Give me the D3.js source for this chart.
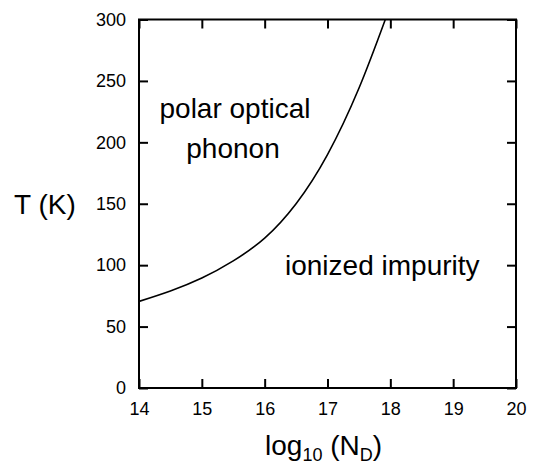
<!DOCTYPE html>
<html>
<head>
<meta charset="utf-8">
<script src="https://cdn.jsdelivr.net/npm/d3@7"></script>
<style>
  html, body { margin: 0; padding: 0; background: #fff; }
  svg { display: block; }
  text { font-family: "Liberation Sans", Arial, Helvetica, sans-serif; fill: #000; }
</style>
</head>
<body>
<svg id="chart" width="540" height="466"></svg>
<script>
// Boundary between scattering regimes: log10 of donor density vs temperature
const logND = [14, 14.5, 15, 15.5, 16, 16.5, 17, 17.5, 17.92];
const tempK = [70.5, 79, 89.5, 103.5, 122, 150, 190, 244, 300];

const xTicks = [14, 15, 16, 17, 18, 19, 20];
const yTicks = [0, 50, 100, 150, 200, 250, 300];

const regionLabels = ["polar optical", "phonon", "ionized impurity"];

const svg = d3.select("#chart");
const plotLeft = 139, plotRight = 516, plotTop = 19.5, plotBottom = 388;

const x = d3.scaleLinear().domain([14, 20]).range([plotLeft, plotRight]);
const y = d3.scaleLinear().domain([0, 300]).range([plotBottom, plotTop]);

const tickLen = 9;
const font = '"Liberation Sans", Arial, Helvetica, sans-serif';

// Axes with inward ticks
const gB = svg.append("g").attr("transform", `translate(0,${plotBottom})`)
  .call(d3.axisBottom(x).tickValues(xTicks).tickFormat(d3.format("d"))
    .tickSizeInner(-tickLen).tickSizeOuter(0).tickPadding(14));
const gT = svg.append("g").attr("transform", `translate(0,${plotTop})`)
  .call(d3.axisTop(x).tickValues(xTicks).tickFormat("")
    .tickSizeInner(-tickLen).tickSizeOuter(0));
const gL = svg.append("g").attr("transform", `translate(${plotLeft},0)`)
  .call(d3.axisLeft(y).tickValues(yTicks).tickFormat(d3.format("d"))
    .tickSizeInner(-tickLen).tickSizeOuter(0).tickPadding(13));
const gR = svg.append("g").attr("transform", `translate(${plotRight},0)`)
  .call(d3.axisRight(y).tickValues(yTicks).tickFormat("")
    .tickSizeInner(-tickLen).tickSizeOuter(0));

[gB, gT, gL, gR].forEach(g => {
  g.select(".domain").remove();
  g.selectAll(".tick line").attr("stroke", "#000").attr("stroke-width", 2);
  g.selectAll("text").attr("font-family", font).attr("font-size", 18).attr("fill", "#000");
});

// Plot frame
svg.append("rect")
  .attr("x", plotLeft).attr("y", plotTop)
  .attr("width", plotRight - plotLeft).attr("height", plotBottom - plotTop)
  .attr("fill", "none").attr("stroke", "#000").attr("stroke-width", 2);

// Boundary curve
svg.append("clipPath").attr("id", "plotClip")
  .append("rect").attr("x", plotLeft).attr("y", plotTop)
  .attr("width", plotRight - plotLeft).attr("height", plotBottom - plotTop);

const line = d3.line()
  .x((d, i) => x(logND[i]))
  .y((d, i) => y(tempK[i]))
  .curve(d3.curveNatural);

svg.append("path")
  .attr("clip-path", "url(#plotClip)")
  .attr("d", line(tempK))
  .attr("fill", "none")
  .attr("stroke", "#000")
  .attr("stroke-width", 1.6);

// Region labels
svg.append("text").attr("x", 235).attr("y", 118).attr("text-anchor", "middle")
  .attr("font-size", 28).text(regionLabels[0]);
svg.append("text").attr("x", 233).attr("y", 158).attr("text-anchor", "middle")
  .attr("font-size", 28).text(regionLabels[1]);
svg.append("text").attr("x", 285).attr("y", 275)
  .attr("font-size", 28).text(regionLabels[2]);

// Axis titles
svg.append("text").attr("x", 14).attr("y", 213.5)
  .attr("font-size", 28).text("T (K)");

const xt = svg.append("text").attr("x", 265).attr("y", 455).attr("font-size", 28);
xt.append("tspan").text("log");
xt.append("tspan").attr("font-size", 18).attr("dy", 6).text("10");
xt.append("tspan").attr("dy", -6).text(" (N");
xt.append("tspan").attr("font-size", 18).attr("dy", 6).text("D");
xt.append("tspan").attr("dy", -6).text(")");
</script>
</body>
</html>
